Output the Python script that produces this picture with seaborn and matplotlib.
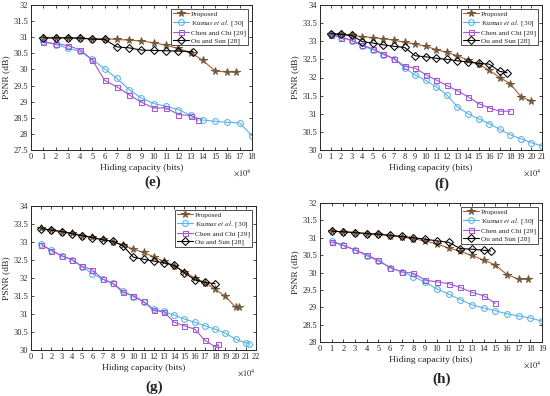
import numpy as np
import pandas as pd
import matplotlib
matplotlib.use("Agg")
import matplotlib.pyplot as plt
from matplotlib.ticker import FuncFormatter
import seaborn as sns

# --- data (x in units of 10^4 bits, y = PSNR dB) ---
# panel (e)
e_prop_x = [1, 2, 3, 4, 5, 6, 7, 8, 9, 10, 11, 12, 13, 14, 15, 16, 16.7]
e_prop_y = [30.98, 30.98, 30.98, 30.97, 30.96, 30.95, 30.93, 30.91, 30.88, 30.83, 30.75, 30.65, 30.52, 30.28, 29.95, 29.92, 29.91]
e_kumar_x = list(range(1, 19))
e_kumar_y = [30.87, 30.77, 30.66, 30.56, 30.31, 30.02, 29.72, 29.37, 29.11, 28.94, 28.86, 28.75, 28.58, 28.43, 28.39, 28.36, 28.34, 27.94]
e_chen_x = [1, 2, 3, 4, 5, 6, 7, 8, 9, 10, 11, 12, 13, 13.6]
e_chen_y = [30.85, 30.80, 30.74, 30.61, 30.29, 29.66, 29.46, 29.21, 28.98, 28.80, 28.81, 28.60, 28.57, 28.42]
e_ou_x = [1, 2, 3, 4, 5, 6, 7, 8, 9, 10, 11, 12, 13.2]
e_ou_y = [30.98, 30.98, 30.98, 30.97, 30.94, 30.93, 30.70, 30.67, 30.60, 30.59, 30.58, 30.57, 30.55]

# panel (f)
f_prop_x = list(range(1, 21))
f_prop_y = [33.20, 33.19, 33.16, 33.13, 33.10, 33.07, 33.03, 32.97, 32.92, 32.86, 32.77, 32.69, 32.60, 32.48, 32.37, 32.20, 32.00, 31.83, 31.47, 31.35]
f_kumar_x = list(range(1, 22))
f_kumar_y = [33.19, 33.12, 33.01, 32.87, 32.77, 32.63, 32.52, 32.26, 32.07, 31.92, 31.74, 31.52, 31.19, 31.00, 30.86, 30.73, 30.57, 30.42, 30.31, 30.20, 30.11]
f_chen_x = list(range(1, 19))
f_chen_y = [33.18, 33.10, 33.03, 32.89, 32.79, 32.65, 32.52, 32.31, 32.26, 32.08, 31.93, 31.78, 31.63, 31.47, 31.28, 31.16, 31.07, 31.07]
f_ou_x = [1, 2, 3, 4, 5, 6, 7, 8, 9, 10, 11, 12, 13, 14, 15, 16, 17, 17.7]
f_ou_y = [33.21, 33.19, 33.16, 32.99, 32.95, 32.90, 32.86, 32.83, 32.60, 32.57, 32.53, 32.50, 32.46, 32.43, 32.39, 32.37, 32.17, 32.13]

# panel (g)
g_prop_x = list(range(1, 21)) + [20.3]
g_prop_y = [33.38, 33.33, 33.29, 33.24, 33.18, 33.13, 33.07, 33.01, 32.92, 32.80, 32.71, 32.59, 32.46, 32.34, 32.17, 32.00, 31.87, 31.69, 31.49, 31.19, 31.19]
g_kumar_x = list(range(1, 22)) + [21.3]
g_kumar_y = [32.94, 32.77, 32.61, 32.51, 32.31, 32.12, 31.97, 31.86, 31.64, 31.48, 31.34, 31.14, 31.07, 30.97, 30.86, 30.77, 30.67, 30.58, 30.47, 30.30, 30.20, 30.18]
g_chen_x = list(range(1, 19)) + [18.3]
g_chen_y = [32.93, 32.76, 32.62, 32.51, 32.32, 32.23, 31.97, 31.85, 31.60, 31.51, 31.35, 31.10, 31.06, 30.77, 30.67, 30.58, 30.27, 30.09, 30.16]
g_ou_x = list(range(1, 19))
g_ou_y = [33.37, 33.33, 33.29, 33.23, 33.18, 33.12, 33.06, 33.02, 32.90, 32.58, 32.52, 32.47, 32.42, 32.35, 32.15, 31.95, 31.88, 31.84]

# panel (h)
h_prop_x = list(range(1, 18)) + [17.8]
h_prop_y = [31.19, 31.17, 31.15, 31.12, 31.10, 31.06, 31.02, 30.97, 30.91, 30.82, 30.71, 30.61, 30.49, 30.36, 30.22, 29.94, 29.81, 29.80]
h_kumar_x = list(range(1, 20))
h_kumar_y = [30.92, 30.78, 30.65, 30.48, 30.33, 30.14, 30.02, 29.88, 29.72, 29.53, 29.38, 29.22, 29.07, 28.98, 28.90, 28.81, 28.75, 28.69, 28.60]
h_chen_x = list(range(1, 16))
h_chen_y = [30.88, 30.78, 30.65, 30.51, 30.35, 30.14, 30.02, 29.98, 29.78, 29.73, 29.68, 29.57, 29.43, 29.33, 29.11]
h_ou_x = [1, 2, 3, 4, 5, 6, 7, 8, 9, 10, 11, 12, 13, 14, 14.6]
h_ou_y = [31.19, 31.17, 31.15, 31.12, 31.10, 31.07, 31.04, 31.00, 30.96, 30.91, 30.87, 30.69, 30.67, 30.64, 30.62]

labels = ["Proposed", r"Kumar $\it{et\ al.}$ [30]", "Chen and Chi [29]", "Ou and Sun [28]"]

# --- styling ---
sns.set_theme(style="ticks")
plt.rcParams["font.family"] = ["Liberation Serif", "DejaVu Serif"]
plt.rcParams["mathtext.fontset"] = "stix"
plt.rcParams["xtick.direction"] = "in"
plt.rcParams["ytick.direction"] = "in"

styles = [
    dict(color="#b5582f", marker="*", markersize=5.5, markerfacecolor="#6f5b3c", markeredgecolor="#6f5b3c"),
    dict(color="#5ab2e6", marker="o", markersize=4.2, markerfacecolor="none", markeredgecolor="#5ab2e6"),
    dict(color="#a356d6", marker="s", markersize=3.6, markerfacecolor="none", markeredgecolor="#a356d6"),
    dict(color="black", marker="D", markersize=3.6, markerfacecolor="none", markeredgecolor="black"),
]


def draw_panel(ax, series, xmax, ylim, panel_label, label_y):
    for (xs, ys), lab, st in zip(series, labels, styles):
        df = pd.DataFrame({"x": xs, "y": ys})
        sns.lineplot(data=df, x="x", y="y", ax=ax, sort=False, label=lab, linewidth=0.8, **st)
    ax.set_xlim(0, xmax)
    ax.set_ylim(*ylim)
    ax.set_xticks(np.arange(0, xmax + 1, 1))
    ax.set_yticks(np.arange(ylim[0], ylim[1] + 0.01, 0.5))
    ax.yaxis.set_major_formatter(FuncFormatter(lambda v, p: f"{v:g}"))
    ax.tick_params(labelsize=6, length=2.5, width=0.6, top=True, right=True, pad=2)
    for sp in ax.spines.values():
        sp.set_linewidth(0.7)
    ax.set_xlabel("Hiding capacity (bits)", fontsize=6.8, labelpad=2)
    ax.set_ylabel("PSNR (dB)", fontsize=6.8, labelpad=2)
    ax.text(1.0, -0.12, r"$\times10^4$", transform=ax.transAxes, ha="right", va="top", fontsize=6)
    leg = ax.legend(loc="upper right", fontsize=5.3, frameon=True, fancybox=False, edgecolor="black",
                    borderpad=0.25, labelspacing=0.15, handlelength=2.1, handletextpad=0.3,
                    borderaxespad=0.55)
    leg.get_frame().set_linewidth(0.6)
    fig.text((ax.get_position().x0 + ax.get_position().x1) / 2 + 0.02, label_y, panel_label,
             ha="center", va="center", fontsize=11, fontweight="bold")


fig = plt.figure(figsize=(5.5, 3.96), dpi=100)
ax_e = fig.add_axes([31 / 550, 1 - 150 / 396, 221 / 550, 145 / 396])
ax_f = fig.add_axes([320 / 550, 1 - 150 / 396, 222 / 550, 145 / 396])
ax_g = fig.add_axes([31 / 550, 1 - 350 / 396, 225 / 550, 144 / 396])
ax_h = fig.add_axes([320 / 550, 1 - 342 / 396, 222 / 550, 139 / 396])

draw_panel(ax_e, [(e_prop_x, e_prop_y), (e_kumar_x, e_kumar_y), (e_chen_x, e_chen_y), (e_ou_x, e_ou_y)],
           18, (27.5, 32), "(e)", 1 - 182 / 396)
draw_panel(ax_f, [(f_prop_x, f_prop_y), (f_kumar_x, f_kumar_y), (f_chen_x, f_chen_y), (f_ou_x, f_ou_y)],
           21, (30, 34), "(f)", 1 - 184 / 396)
draw_panel(ax_g, [(g_prop_x, g_prop_y), (g_kumar_x, g_kumar_y), (g_chen_x, g_chen_y), (g_ou_x, g_ou_y)],
           22, (30, 34), "(g)", 1 - 387 / 396)
draw_panel(ax_h, [(h_prop_x, h_prop_y), (h_kumar_x, h_kumar_y), (h_chen_x, h_chen_y), (h_ou_x, h_ou_y)],
           19, (28, 32), "(h)", 1 - 379 / 396)

fig.savefig("out.png", dpi=100)
